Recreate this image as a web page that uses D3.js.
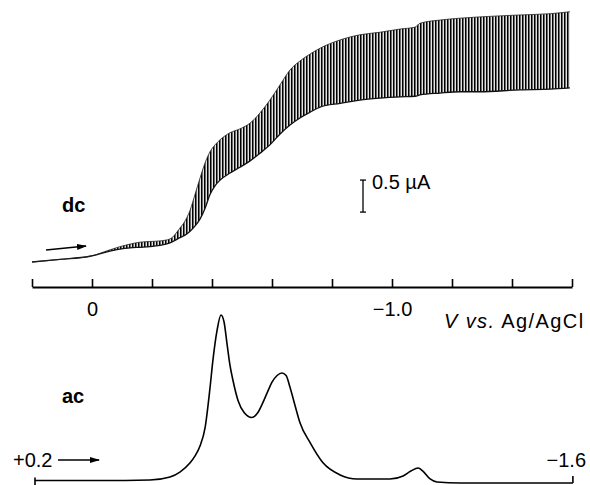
<!DOCTYPE html>
<html>
<head>
<meta charset="utf-8">
<script src="https://cdn.jsdelivr.net/npm/d3@7"></script>
<style>
  body { margin: 0; background: #fff; }
  svg { display: block; font-family: "Liberation Sans", Arial, Helvetica, sans-serif; }
</style>
</head>
<body>
<script>
//size of the svg
var widthSVG = 590;
var heightSVG = 485;

//dc polarogram - potential (V vs Ag/AgCl) and the drop current envelope (uA)
var dcPotential = [0.20, 0.107, 0.007, -0.06, -0.093, -0.127, -0.16, -0.193, -0.227, -0.26,
	-0.293, -0.31, -0.327, -0.343, -0.36, -0.377, -0.393, -0.41, -0.427, -0.46,
	-0.493, -0.527, -0.56, -0.593, -0.627, -0.66, -0.693, -0.727, -0.76, -0.827,
	-0.893, -0.96, -1.027, -1.077, -1.093, -1.16, -1.227, -1.293, -1.427, -1.527, -1.593];
var dcLower = [0, 0.04, 0.09, 0.17, 0.20, 0.22, 0.23, 0.24, 0.26, 0.30,
	0.38, 0.42, 0.48, 0.56, 0.67, 0.84, 1.05, 1.19, 1.28, 1.39,
	1.48, 1.58, 1.70, 1.83, 2.00, 2.14, 2.25, 2.34, 2.42, 2.48,
	2.53, 2.56, 2.58, 2.59, 2.61, 2.64, 2.66, 2.66, 2.69, 2.70, 2.72];
var dcUpper = [0, 0.04, 0.09, 0.19, 0.24, 0.28, 0.31, 0.32, 0.33, 0.36,
	0.53, 0.64, 0.81, 1.05, 1.31, 1.55, 1.72, 1.83, 1.91, 2.02,
	2.08, 2.17, 2.33, 2.53, 2.77, 3.00, 3.14, 3.25, 3.34, 3.47,
	3.55, 3.59, 3.64, 3.67, 3.73, 3.78, 3.81, 3.83, 3.86, 3.88, 3.91];

//ac polarogram - potential and current (arbitrary units)
var acPotential = [0.19, -0.027, -0.193, -0.26, -0.293, -0.327, -0.343, -0.36, -0.377, -0.393,
	-0.403, -0.417, -0.43, -0.44, -0.45, -0.46, -0.47, -0.487, -0.507, -0.533,
	-0.553, -0.57, -0.587, -0.6, -0.617, -0.633, -0.647, -0.66, -0.677, -0.693,
	-0.727, -0.77, -0.827, -0.883, -0.993, -1.037, -1.063, -1.087, -1.103, -1.127,
	-1.15, -1.227, -1.603];
var acCurrent = [1.5, 1.5, 1.8, 3.6, 6.5, 12, 16, 22, 33, 56,
	73, 91, 100, 96, 83, 70, 61, 49, 42, 39,
	42, 48, 55, 60, 64, 65.5, 64, 57, 46, 36,
	24, 12, 4.8, 2.4, 2.4, 4.2, 7.1, 8.9, 7.1, 2.4,
	0.6, 0, 0];

//potential axis
var axisTicks = [0.2, 0, -0.2, -0.4, -0.6, -0.8, -1.0, -1.2, -1.4, -1.6];
var labelTicks = [0, -1.0];
var labelText = ["0", "\u22121.0"];

//scale bar of the dc trace
var scaleBar = [0.78, 1.28];

//scales
var xScale = d3.scaleLinear().domain([0.2, -1.6]).range([32, 572]);
var yDc = d3.scaleLinear().domain([0, 4]).range([262, 6]);
var yAc = d3.scaleLinear().domain([0, 100]).range([483, 315]);

var svg = d3.select("body")
	.append("svg")
	.attr("width", widthSVG)
	.attr("height", heightSVG);

var defs = svg.append("defs");

//pattern that imitates the drop-by-drop oscillation of the dc current
var pat = defs.append("pattern")
	.attr("id", "drops")
	.attr("patternUnits", "userSpaceOnUse")
	.attr("width", 3)
	.attr("height", 20);
pat.append("rect").attr("width", 3).attr("height", 20).attr("fill", "#fff");
pat.append("rect").attr("width", 1.6).attr("height", 20).attr("fill", "#000");
pat.append("rect").attr("x", 1.6).attr("width", 0.6).attr("height", 20).attr("fill", "#777");

//arrow head
defs.append("marker")
	.attr("id", "head")
	.attr("viewBox", "0 0 10 6")
	.attr("refX", 9)
	.attr("refY", 3)
	.attr("markerWidth", 10)
	.attr("markerHeight", 6)
	.attr("markerUnits", "userSpaceOnUse")
	.attr("orient", "auto")
	.append("path")
	.attr("d", "M0,0L10,3L0,6Z")
	.attr("fill", "#000");

var dcData = dcPotential.map(function(v, i) {
	return { V: v, lo: dcLower[i], hi: dcUpper[i] };
});
var acData = acPotential.map(function(v, i) {
	return { V: v, I: acCurrent[i] };
});

//dc band
var band = d3.area()
	.x(function(d) { return xScale(d.V); })
	.y0(function(d) { return yDc(d.lo); })
	.y1(function(d) { return yDc(d.hi); })
	.curve(d3.curveMonotoneX);

svg.append("path")
	.datum(dcData)
	.attr("d", band)
	.attr("fill", "url(#drops)")
	.attr("stroke", "none");

var lineLo = d3.line()
	.x(function(d) { return xScale(d.V); })
	.y(function(d) { return yDc(d.lo); })
	.curve(d3.curveMonotoneX);
var lineHi = d3.line()
	.x(function(d) { return xScale(d.V); })
	.y(function(d) { return yDc(d.hi); })
	.curve(d3.curveMonotoneX);

svg.append("path").datum(dcData).attr("d", lineLo)
	.attr("fill", "none").attr("stroke", "#111").attr("stroke-width", 1.3);
svg.append("path").datum(dcData).attr("d", lineHi)
	.attr("fill", "none").attr("stroke", "#222").attr("stroke-width", 0.8);

//potential axis between the two traces, ticks pointing up
var x_axis = d3.axisBottom(xScale)
	.tickValues(axisTicks)
	.tickSizeInner(-8)
	.tickSizeOuter(0)
	.tickPadding(15)
	.tickFormat(function(d) {
		var i = labelTicks.indexOf(d);
		return i < 0 ? "" : labelText[i];
	});

var gx = svg.append("g")
	.attr("transform", "translate(0,287)")
	.call(x_axis);
gx.select(".domain").attr("stroke", "#000").attr("stroke-width", 2);
gx.selectAll(".tick line").attr("stroke", "#000").attr("stroke-width", 1.6);
gx.selectAll(".tick text")
	.attr("fill", "#000")
	.style("font-size", "20px")
	.style("font-family", "Liberation Sans, Arial, sans-serif");

//axis title
var axTitle = svg.append("text")
	.attr("x", 444)
	.attr("y", 328)
	.style("font-size", "20px")
	.style("letter-spacing", "1.4px");
axTitle.append("tspan").style("font-style", "italic").text("V vs.");
axTitle.append("tspan").text(" Ag/AgCl");

//scale bar
var barX = 363;
svg.append("line")
	.attr("x1", barX).attr("x2", barX)
	.attr("y1", yDc(scaleBar[0])).attr("y2", yDc(scaleBar[1]))
	.attr("stroke", "#000").attr("stroke-width", 1.3);
scaleBar.forEach(function(v) {
	svg.append("line")
		.attr("x1", barX - 3).attr("x2", barX + 3)
		.attr("y1", yDc(v)).attr("y2", yDc(v))
		.attr("stroke", "#000").attr("stroke-width", 1.3);
});
svg.append("text")
	.attr("x", 372)
	.attr("y", 189)
	.style("font-size", "20px")
	.text("0.5 \u00b5A");

//trace labels
svg.append("text").attr("x", 62).attr("y", 212)
	.style("font-size", "20px").style("font-weight", "bold").text("dc");
svg.append("text").attr("x", 62).attr("y", 403)
	.style("font-size", "20px").style("font-weight", "bold").text("ac");

//scan direction arrows
svg.append("line")
	.attr("x1", 46).attr("y1", 250).attr("x2", 86).attr("y2", 246)
	.attr("stroke", "#000").attr("stroke-width", 1.3)
	.attr("marker-end", "url(#head)");
svg.append("line")
	.attr("x1", 58).attr("y1", 460).attr("x2", 99).attr("y2", 460)
	.attr("stroke", "#000").attr("stroke-width", 1.3)
	.attr("marker-end", "url(#head)");

//ac trace
var acLine = d3.line()
	.x(function(d) { return xScale(d.V); })
	.y(function(d) { return yAc(d.I); })
	.curve(d3.curveMonotoneX);

svg.append("path")
	.datum(acData)
	.attr("d", acLine)
	.attr("fill", "none")
	.attr("stroke", "#000")
	.attr("stroke-width", 1.6);

//end marks of the ac scan
var xStart = xScale(acPotential[0]);
var xEnd = xScale(acPotential[acPotential.length - 1]);
svg.append("line")
	.attr("x1", xStart).attr("x2", xStart)
	.attr("y1", yAc(acCurrent[0]) - 3).attr("y2", yAc(acCurrent[0]) + 6)
	.attr("stroke", "#000").attr("stroke-width", 1.6);
svg.append("line")
	.attr("x1", xEnd).attr("x2", xEnd)
	.attr("y1", yAc(0) - 7).attr("y2", yAc(0))
	.attr("stroke", "#000").attr("stroke-width", 1.6);

svg.append("text").attr("x", 13).attr("y", 467)
	.style("font-size", "20px").text("+0.2");
svg.append("text").attr("x", 586).attr("y", 467)
	.attr("text-anchor", "end")
	.style("font-size", "20px").text("\u22121.6");
</script>
</body>
</html>
